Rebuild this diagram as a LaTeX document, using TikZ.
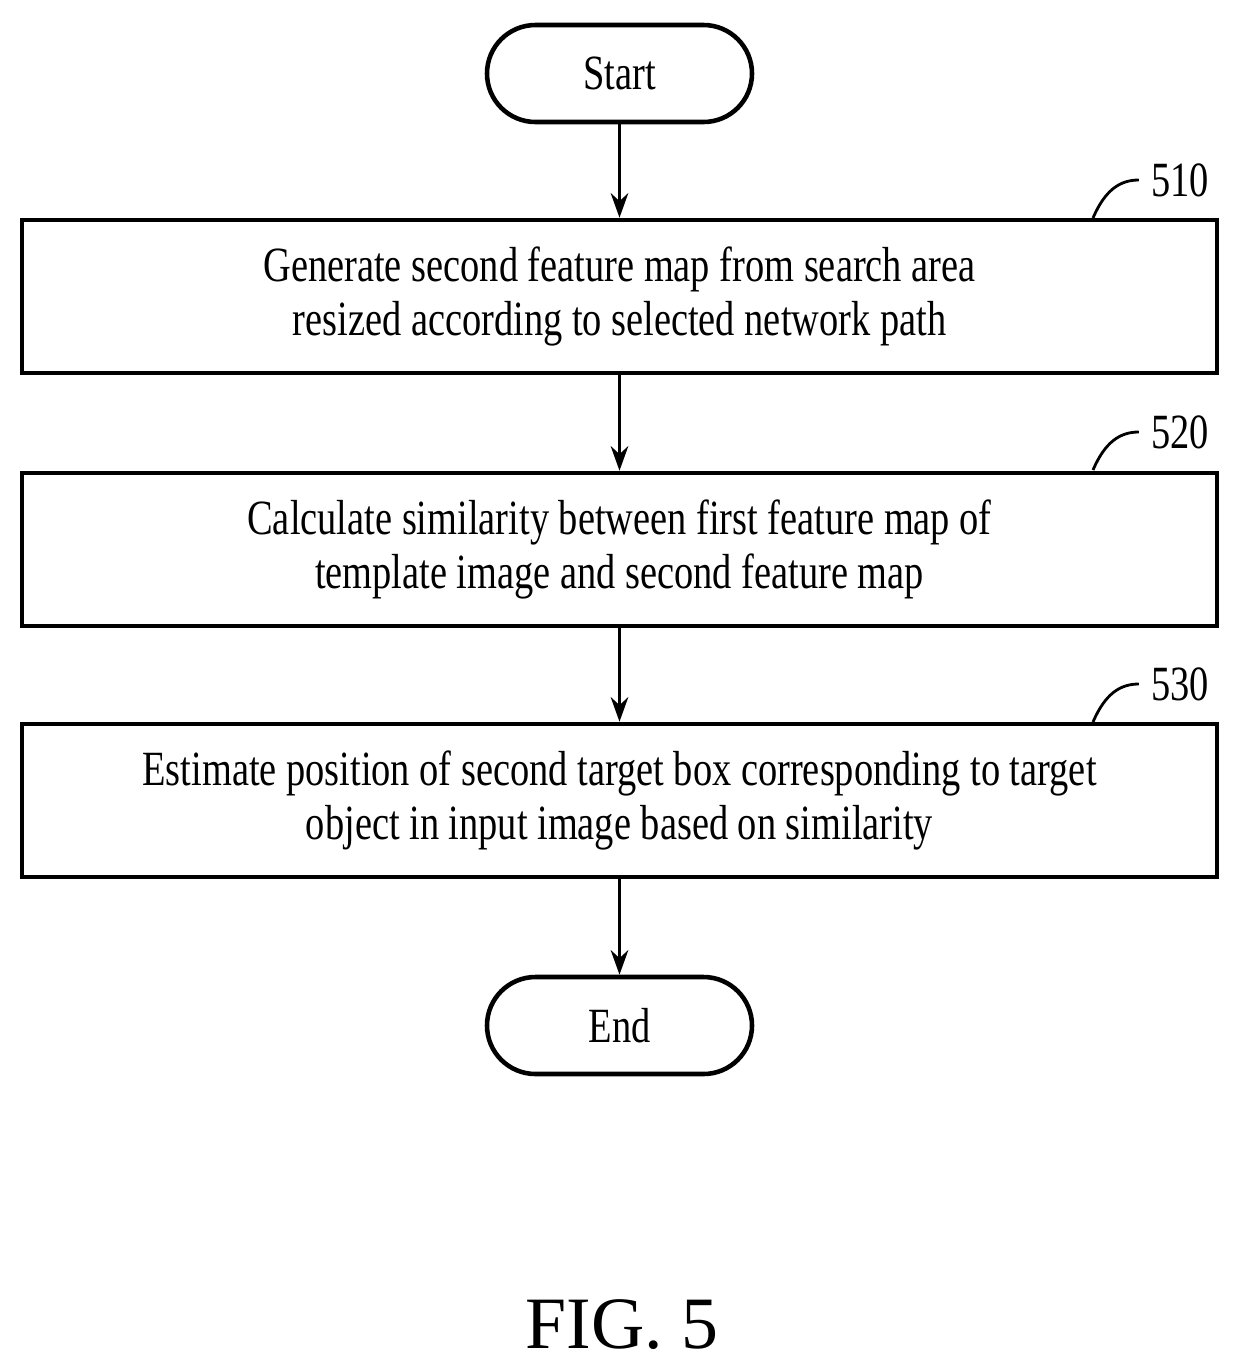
\documentclass[tikz,border=0pt]{standalone}
\usepackage{fontspec}
\usetikzlibrary{arrows.meta}
\setmainfont{Liberation Serif}[FakeStretch=0.78]
\newfontfamily\figfont{Liberation Serif}
\begin{document}
\begin{tikzpicture}[x=0.01cm,y=-0.01cm,
  every node/.style={font=\fontsize{14}{15.3}\selectfont},
  term/.style={draw,line width=1.3pt,rounded corners=48.5*0.01cm,minimum width=265*0.01cm,minimum height=97*0.01cm,inner sep=0},
  procbox/.style={draw,line width=1.3pt,minimum width=1195*0.01cm,minimum height=153*0.01cm,align=center,inner sep=0},
  arr/.style={-{Stealth[length=7pt,width=5pt]},line width=0.8pt},
  lead/.style={line width=0.8pt}]
\useasboundingbox (0,0) rectangle (1239,1372);
\node[term] (start) at (619.5,73.5) {Start};
\node[procbox] (s510) at (619.5,296.5) {Generate second feature map from search area\\resized according to selected network path};
\node[procbox] (s520) at (619.5,549.5) {Calculate similarity between first feature map of\\template image and second feature map};
\node[procbox] (s530) at (619.5,800.5) {Estimate position of second target box corresponding to target\\object in input image based on similarity};
\node[term] (end) at (619.5,1025.5) {End};
\draw[arr] (start) -- (s510);
\draw[arr] (s510) -- (s520);
\draw[arr] (s520) -- (s530);
\draw[arr] (s530) -- (end);
\foreach \n/\y in {510/180,520/432,530/684}{
  \node (l\n) at (1180,\y) {\n};
  \coordinate (c\n) at (1093,\y+38);
  \draw[lead] (c\n) .. controls (1105,\y+10) and (1120,\y) .. (l\n.west);
}
\node (fig) at (622,1325) {\figfont\fontsize{21}{24}\selectfont FIG. 5};
\end{tikzpicture}
\end{document}
